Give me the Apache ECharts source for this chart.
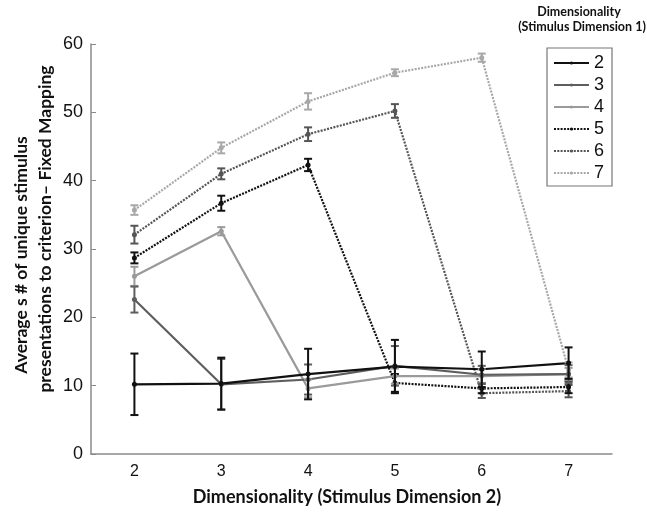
<!DOCTYPE html>
<html>
<head>
<meta charset="utf-8">
<script src="https://cdn.jsdelivr.net/npm/echarts@6/dist/echarts.min.js"></script>
<style>html,body{margin:0;padding:0;background:#fff;}#c{width:647px;height:515px;}</style>
</head>
<body>
<div id="c"></div>
<script>
const categories = ['2', '3', '4', '5', '6', '7'];
const names = ['2', '3', '4', '5', '6', '7'];
const s2 = [10.2, 10.3, 11.7, 12.8, 12.4, 13.3];
const s3 = [22.6, 10.2, 10.9, 12.9, 11.6, 11.7];
const s4 = [26.0, 32.6, 9.6, 11.4, 11.4, 11.7];
const s5 = [28.7, 36.7, 42.3, 10.4, 9.6, 9.8];
const s6 = [32.1, 41.0, 46.8, 50.2, 8.9, 9.2];
const s7 = [35.7, 44.8, 51.6, 55.8, 58.0, 12.3];
const e2 = [4.5, 3.8, 3.7, 3.9, 2.6, 2.3];
const e3 = [1.9, 3.7, 2.2, 2.9, 1.3, 1.3];
const e4 = [1.4, 0.6, 1.3, 1.1, 1.0, 0.9];
const e5 = [0.8, 1.1, 0.9, 1.3, 0.7, 0.9];
const e6 = [1.3, 0.8, 1.0, 1.0, 0.7, 0.9];
const e7 = [0.7, 0.8, 1.2, 0.5, 0.6, 1.1];
const yTicks = [0, 10, 20, 30, 40, 50, 60];

const values = [s2, s3, s4, s5, s6, s7];
const errors = [e2, e3, e4, e5, e6, e7];
const colors = ['#111111', '#5e5e5e', '#9a9a9a', '#111111', '#555555', '#a8a8a8'];
const ltypes = ['solid', 'solid', 'solid', [2, 1.3], [2, 1.3], [2, 1.3]];

const chart = echarts.init(document.getElementById('c'), null, {renderer: 'canvas'});

function errRender(color) {
  return function (params, api) {
    const x = api.value(0);
    const lo = api.coord([x, api.value(1)]);
    const hi = api.coord([x, api.value(2)]);
    const mid = api.coord([x, api.value(3)]);
    const w = 4;
    const st = {stroke: color, lineWidth: 2};
    return {type: 'group', children: [
      {type: 'line', shape: {x1: lo[0], y1: lo[1], x2: hi[0], y2: hi[1]}, style: st},
      {type: 'line', shape: {x1: lo[0] - w, y1: lo[1], x2: lo[0] + w, y2: lo[1]}, style: st},
      {type: 'line', shape: {x1: hi[0] - w, y1: hi[1], x2: hi[0] + w, y2: hi[1]}, style: st},
      {type: 'circle', shape: {cx: mid[0], cy: mid[1], r: 2.5}, style: {fill: color}}
    ]};
  };
}

const series = [];
for (let k = values.length - 1; k >= 0; k--) {
  series.push({
    name: names[k], type: 'line', data: values[k],
    symbol: 'none',
    itemStyle: {color: colors[k]},
    lineStyle: {color: colors[k], width: 2.2, type: ltypes[k]},
    z: 2, animation: false
  });
  series.push({
    type: 'custom', name: 'err' + names[k],
    data: values[k].map((v, i) => [i, v - errors[k][i], v + errors[k][i], v]),
    renderItem: errRender(colors[k]),
    z: 3, animation: false, silent: true
  });
}

chart.setOption({
  animation: false,
  grid: {left: 91, right: 35, top: 44, bottom: 61, containLabel: false},
  xAxis: {
    type: 'category', data: categories, boundaryGap: true,
    axisLine: {lineStyle: {color: '#8a8a8a', width: 1.5}},
    axisTick: {alignWithLabel: true, inside: true, length: 5, lineStyle: {color: '#8a8a8a'}},
    axisLabel: {color: '#111', fontSize: 16, fontFamily: 'Liberation Sans', margin: 10},
    splitLine: {show: false}
  },
  yAxis: {
    type: 'value', min: 0, max: 60, interval: 10,
    axisLine: {show: true, lineStyle: {color: '#8a8a8a', width: 1.5}},
    axisTick: {show: true, inside: true, length: 5, lineStyle: {color: '#8a8a8a'}},
    axisLabel: {color: '#111', fontSize: 18, fontFamily: 'Liberation Sans', margin: 8,
      formatter: v => (yTicks.indexOf(v) >= 0 ? String(v) : '')},
    splitLine: {show: false}
  },
  legend: {
    data: names,
    orient: 'vertical', left: 547, top: 48,
    padding: [6, 8, 4, 6],
    borderColor: '#777', borderWidth: 1.2,
    itemWidth: 35, itemHeight: 4, itemGap: 4,
    textStyle: {fontSize: 18, fontFamily: 'Liberation Sans', color: '#111', lineHeight: 18}
  },
  graphic: [
    {type: 'text', x: 21, y: 255, rotation: Math.PI / 2,
      style: {text: 'Average s # of unique stimulus', font: 'bold 17.5px Lato', fill: '#111', align: 'center', verticalAlign: 'middle'}},
    {type: 'text', x: 45, y: 229, rotation: Math.PI / 2,
      style: {text: 'presentations to criterion\u2013 Fixed Mapping', font: 'bold 17.5px Lato', fill: '#111', align: 'center', verticalAlign: 'middle'}},
    {type: 'text', x: 347, y: 497,
      style: {text: 'Dimensionality (Stimulus Dimension 2)', font: 'bold 18px Lato', fill: '#111', align: 'center', verticalAlign: 'middle'}},
    {type: 'text', x: 579, y: 12,
      style: {text: 'Dimensionality', font: 'bold 12.5px Lato', fill: '#111', align: 'center', verticalAlign: 'middle'}},
    {type: 'text', x: 582, y: 27,
      style: {text: '(Stimulus Dimension 1)', font: 'bold 12.5px Lato', fill: '#111', align: 'center', verticalAlign: 'middle'}}
  ],
  series: series
});
</script>
</body>
</html>
